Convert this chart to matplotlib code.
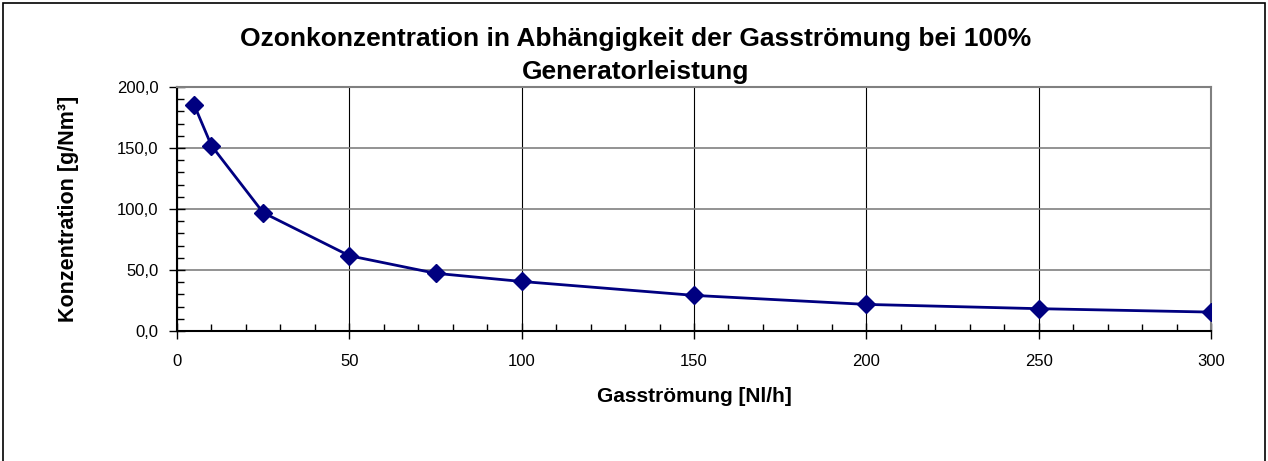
import matplotlib
matplotlib.use("Agg")
import matplotlib.pyplot as plt
from matplotlib.ticker import MultipleLocator, FuncFormatter
from matplotlib.patches import Rectangle

flow = [5, 10, 25, 50, 75, 100, 150, 200, 250, 300]
conc = [185.2, 151.9, 97.0, 61.7, 47.3, 40.6, 29.2, 21.8, 18.3, 15.5]

title_lines = ["Ozonkonzentration in Abhängigkeit der Gasströmung bei 100%", "Generatorleistung"]
xlabel = "Gasströmung [Nl/h]"
ylabel = "Konzentration [g/Nm³]"

plt.rcParams['font.family'] = ['Liberation Sans', 'DejaVu Sans']

W, H = 1268, 461
fig = plt.figure(figsize=(W / 100, H / 100), dpi=100)
fig.patches.append(Rectangle((3 / W, -0.1), 1 - 6 / W, 1.1 - 3 / H, transform=fig.transFigure,
                             fill=False, edgecolor='black', linewidth=1.2))
ax = fig.add_axes([177 / W, 1 - 331 / H, (1211 - 177) / W, (331 - 87) / H])

ax.plot(flow, conc, color='#000080', linewidth=2, marker='D', markersize=9, zorder=3)

ax.set_xlim(0, 300)
ax.set_ylim(0, 200)
ax.xaxis.set_major_locator(MultipleLocator(50))
ax.xaxis.set_minor_locator(MultipleLocator(10))
ax.yaxis.set_major_locator(MultipleLocator(50))
ax.yaxis.set_minor_locator(MultipleLocator(10))
ax.yaxis.set_major_formatter(FuncFormatter(lambda v, p: f"{v:.1f}".replace('.', ',')))

ax.grid(True, axis='y', which='major', color='#808080', linewidth=1.2)
ax.grid(True, axis='x', which='major', color='black', linewidth=0.8)
ax.set_axisbelow(True)

ax.tick_params(axis='both', which='major', direction='inout', length=11, width=1, labelsize=12)
ax.tick_params(axis='x', which='major', pad=11)
ax.tick_params(axis='y', which='major', pad=8)
ax.tick_params(axis='both', which='minor', direction='in', length=5, width=1)
for s in ['left', 'bottom']:
    ax.spines[s].set_linewidth(1.5)
for s in ['top', 'right']:
    ax.spines[s].set_color('#808080')
    ax.spines[s].set_linewidth(1.5)

ax.set_xlabel(xlabel, fontsize=15, fontweight='bold')
ax.set_ylabel(ylabel, fontsize=15.5, fontweight='bold')
ax.xaxis.set_label_coords(0.5, (331 - 387) / 244)
ax.yaxis.set_label_coords((79 - 177) / 1034, 0.5)

fig.text(636 / W, 1 - 46 / H, title_lines[0], ha='center', va='baseline', fontsize=19, fontweight='bold')
fig.text(636 / W, 1 - 79 / H, title_lines[1], ha='center', va='baseline', fontsize=19, fontweight='bold')

fig.savefig("out.png", dpi=100)
